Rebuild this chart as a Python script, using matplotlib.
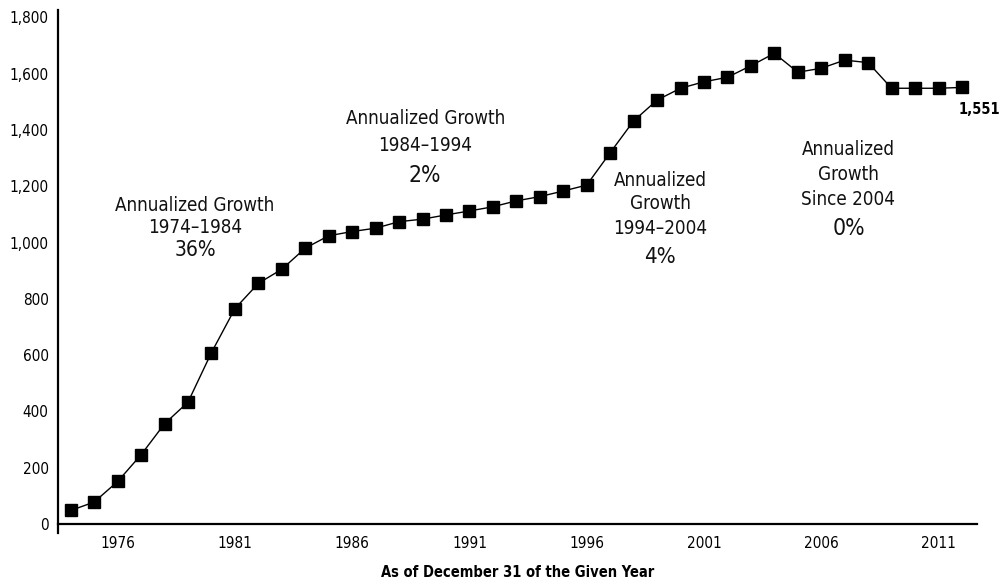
import os
import matplotlib
matplotlib.use("Agg")
import matplotlib.pyplot as plt
from matplotlib import font_manager as fm
from matplotlib.ticker import FuncFormatter

# Year-end totals
years = list(range(1974, 2013))
values = [48, 78, 151, 246, 356, 433, 609, 765, 855, 905, 980, 1024,
          1039, 1051, 1074, 1083, 1098, 1112, 1127, 1148, 1163, 1183, 1204,
          1319, 1432, 1506, 1548, 1571, 1587, 1628, 1672, 1605, 1619, 1648,
          1639, 1548, 1548, 1548, 1551]

x_ticks = [1976, 1981, 1986, 1991, 1996, 2001, 2006, 2011]
y_ticks = [0, 200, 400, 600, 800, 1000, 1200, 1400, 1600, 1800]

# Growth call-outs: (text, year, value, fontsize)
callouts = [
    ("Annualized Growth", 1979.30, 1133, 13.5),
    ("1974\u20131984", 1979.30, 1055, 13.5),
    ("36%", 1979.30, 975, 15),
    ("Annualized Growth", 1989.11, 1442, 13.5),
    ("1984\u20131994", 1989.11, 1346, 13.5),
    ("2%", 1989.11, 1238, 16.5),
    ("Annualized", 1999.13, 1222, 13.5),
    ("Growth", 1999.13, 1140, 13.5),
    ("1994\u20132004", 1999.13, 1051, 13.5),
    ("4%", 1999.13, 948, 16),
    ("Annualized", 2007.16, 1329, 13.5),
    ("Growth", 2007.16, 1240, 13.5),
    ("Since 2004", 2007.16, 1152, 13.5),
    ("0%", 2007.16, 1049, 16.5),
]


def pick_narrow(bold):
    """Look for an installed narrow/condensed sans face."""
    paths = [f.fname for f in fm.fontManager.ttflist]
    try:
        paths += fm.findSystemFonts()
    except Exception:
        pass
    prefs = ["LiberationSansNarrow", "DejaVuSansCondensed", "RobotoCondensed",
             "OpenSans_Condensed", "OpenSansCondensed", "NotoSans-Condensed",
             "NotoSansCondensed", "ArialNarrow", "Condensed", "Narrow"]
    bad = ["italic", "oblique", "light", "thin", "medium", "semi", "extra",
           "black", "mono", "serif"]
    for key in prefs:
        for p in sorted(set(paths)):
            base = os.path.basename(p)
            low = base.lower()
            if key.lower() not in low.replace(" ", ""):
                continue
            if any(b in low.replace(key.lower(), "") for b in bad):
                continue
            is_bold = "bold" in low
            if is_bold == bold:
                return p
    return None


reg_path = pick_narrow(False)
bold_path = pick_narrow(True)
if reg_path:
    scale = 1.0

    def fp(size, bold=False):
        path = bold_path if (bold and bold_path) else reg_path
        kw = {"weight": "bold"} if (bold and not bold_path) else {}
        return fm.FontProperties(fname=path, size=size, **kw)
else:
    scale = 0.9

    def fp(size, bold=False):
        return fm.FontProperties(family=["Liberation Sans", "DejaVu Sans"],
                                 size=size * scale,
                                 weight="bold" if bold else "normal")

fig = plt.figure(figsize=(10.02, 5.82), dpi=100)
ax = fig.add_axes([0.0582, 0.0842, 0.9166, 0.8986])

ax.plot(years, values, color="black", linewidth=1.0, marker="s",
        markersize=8.5, markerfacecolor="black", markeredgecolor="black")

ax.set_xlim(1973.47, 2012.63)
ax.set_ylim(-32, 1826)

for side in ("top", "right"):
    ax.spines[side].set_visible(False)
ax.spines["bottom"].set_position(("data", 0))
ax.spines["left"].set_linewidth(1.6)
ax.spines["bottom"].set_linewidth(1.6)

ax.set_xticks(x_ticks)
ax.set_yticks(y_ticks)
ax.yaxis.set_major_formatter(FuncFormatter(lambda v, p: f"{int(v):,}"))
ax.tick_params(axis="x", length=0, pad=9)
ax.tick_params(axis="y", length=0, pad=7)
ax.set_yticks([0], minor=True)
ax.tick_params(axis="y", which="minor", length=6, width=1.6, direction="out")

for lbl in ax.get_xticklabels():
    lbl.set_fontproperties(fp(11))
for lbl in ax.get_yticklabels():
    lbl.set_fontproperties(fp(11))

ax.set_xlabel("As of December 31 of the Given Year", labelpad=10,
              fontproperties=fp(10.5, bold=True))

for text, xv, yv, fs in callouts:
    ax.text(xv, yv, text, ha="center", va="center", color="#111111",
            fontproperties=fp(fs))

ax.text(years[-1] - 0.15, values[-1] - 78, f"{values[-1]:,}", ha="left",
        va="center", fontproperties=fp(10.5, bold=True))

fig.savefig("out.png", dpi=100, facecolor="white")
